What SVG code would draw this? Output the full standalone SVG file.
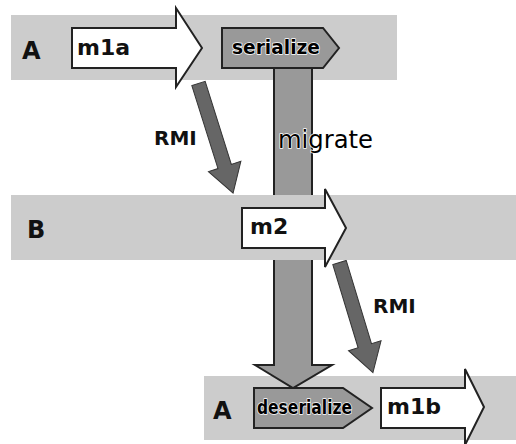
<svg xmlns="http://www.w3.org/2000/svg" width="516" height="444" viewBox="0 0 516 444">
<style>
.band{fill:#cccccc}
.wa{fill:#ffffff;stroke:#222222;stroke-width:2;stroke-linejoin:miter}
.ga{fill:#999999;stroke:#222222;stroke-width:2;stroke-linejoin:miter}
.da{fill:#666666;stroke:#333333;stroke-width:1}
.lbl{font-family:"DejaVu Sans",sans-serif;font-weight:bold;fill:#111111}
.halo{font-family:"DejaVu Sans",sans-serif}
</style>
<defs>
<polygon id="rmiShape" points="0,-7 87,-7 87,-17 115,0 87,17 87,7 0,7"/>
</defs>
<rect width="516" height="444" fill="#ffffff"/>
<g id="laneA1"><rect class="band" x="11" y="15" width="386" height="65"/><text class="lbl" x="22" y="59" font-size="24">A</text></g>
<g id="laneA2"><rect class="band" x="204" y="376" width="312" height="64"/><text class="lbl" x="213" y="419" font-size="24">A</text></g>
<g id="connectors">
<g id="migrate"><polygon class="ga" points="274,68 312,68 312,365 332,365 293,388 255,365 274,365"/></g>
<g id="rmi1"><use href="#rmiShape" class="da" transform="translate(198.5,83.5) rotate(72.5)"/></g>
<g id="rmi2"><use href="#rmiShape" class="da" transform="translate(339.5,262.5) rotate(73.1)"/></g>
</g>
<g id="laneB"><rect class="band" x="11" y="195" width="505" height="65"/><text class="lbl" x="27" y="238" font-size="24">B</text></g>
<g id="labels">
<text class="lbl" x="154" y="145" font-size="20">RMI</text>
<text class="lbl" x="373" y="313" font-size="20">RMI</text>
<text class="halo" x="278" y="148" font-size="24" textLength="95" lengthAdjust="spacingAndGlyphs" fill="#000000" stroke="#ffffff" stroke-width="1.5" paint-order="stroke" stroke-linejoin="round">migrate</text>
</g>
<g id="m1a"><polygon class="wa" points="72,28 176,28 176,8 202,48 176,87 176,68 72,68"/><text class="lbl" x="77" y="55" font-size="22">m1a</text></g>
<g id="serialize"><polygon class="ga" points="222,28 323,28 339,48 323,68 222,68"/><text class="halo" x="232" y="54" font-size="20" font-weight="bold" textLength="88" lengthAdjust="spacingAndGlyphs" fill="#000000" stroke="#ffffff" stroke-width="1.5" paint-order="stroke" stroke-linejoin="round">serialize</text></g>
<g id="m2"><polygon class="wa" points="242,208 325,208 325,189 346,228 325,267 325,248 242,248"/><text class="lbl" x="250" y="234" font-size="22">m2</text></g>
<g id="deserialize"><polygon class="ga" points="254,388 343,388 372,408 343,428 254,428"/><text class="halo" x="257" y="414" font-size="19" font-weight="bold" textLength="95" lengthAdjust="spacingAndGlyphs" fill="#000000" stroke="#ffffff" stroke-width="1.5" paint-order="stroke" stroke-linejoin="round">deserialize</text></g>
<g id="m1b"><polygon class="wa" points="381,388 465,388 465,369 484,407 465,445 465,428 381,428"/><text class="lbl" x="387" y="414" font-size="22">m1b</text></g>
</svg>
